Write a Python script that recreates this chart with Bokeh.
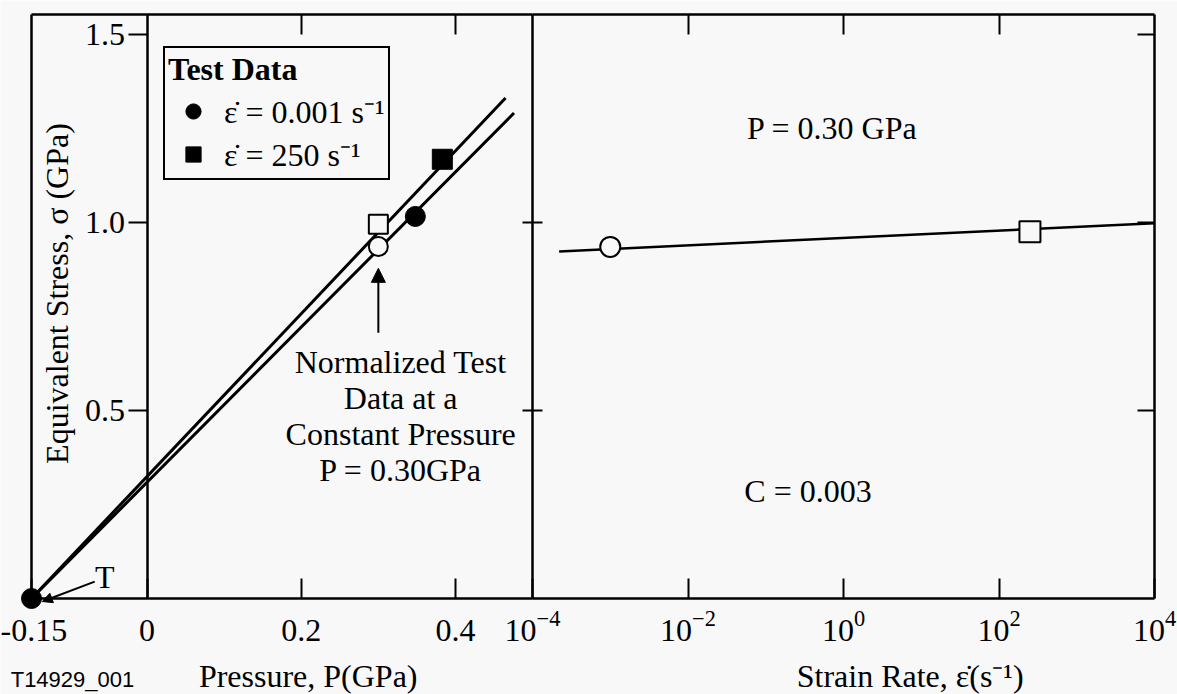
import math
from bokeh.plotting import figure
from bokeh.models import (Range1d, LinearAxis, LogAxis, LogScale, FixedTicker, Label, Arrow,
                          NormalHead, Legend, LegendItem, LogTickFormatter)
from bokeh.embed import file_html
from bokeh.resources import INLINE

# ---------------- data ----------------
# left panel: equivalent stress (GPa) vs pressure (GPa)
tensile_P = [-0.15]
tensile_S = [0.0]
fit_250_P = [-0.15, 0.465]
fit_250_S = [0.0, 1.331]
fit_001_P = [-0.15, 0.476]
fit_001_S = [0.0, 1.291]
test_001_P = [0.348]
test_001_S = [1.016]
test_250_P = [0.383]
test_250_S = [1.168]
norm_001_P = [0.30]
norm_001_S = [0.936]
norm_250_P = [0.30]
norm_250_S = [0.995]

# right panel: equivalent stress (GPa) vs strain rate (1/s) at P = 0.30 GPa
rate_fit = [2.2e-4, 1e4]
rate_fit_S = [0.923, 0.998]
rate_001 = [1e-3]
rate_001_S = [0.935]
rate_250 = [250.0]
rate_250_S = [0.975]

p_ticks = [-0.15, 0.0, 0.2, 0.4]
p_tick_labels = ["-0.15", "0", "0.2", "0.4"]
rate_ticks = [1e-4, 1e-2, 1.0, 1e2, 1e4]
stress_ticks = [0.5, 1.0, 1.5]
stress_tick_labels = ["0.5", "1.0", "1.5"]

P_MIN, P_MAX = -0.15, 0.5
R_MIN, R_MAX = 1e-4, 1e4
S_MAX = 1.553

# ---------------- layout (pixels) ----------------
W, H = 1177, 694
PX_L, PX_DIV, PX_R, PX_T, PX_B = 31, 532, 1154, 14, 598
kx = (PX_DIV - PX_L) / (P_MAX - P_MIN)
kl = (PX_R - PX_DIV) / (math.log10(R_MAX) - math.log10(R_MIN))
ky = (PX_B - PX_T) / S_MAX
x_range = Range1d(P_MIN - PX_L / kx, P_MAX + (W - PX_DIV) / kx)
rate_range = Range1d(10 ** (math.log10(R_MIN) - PX_DIV / kl), 10 ** (math.log10(R_MAX) + (W - PX_R) / kl))
y_range = Range1d(-(H - PX_B) / ky, S_MAX + PX_T / ky)
Y_TITLE = -(675 - PX_B) / ky   # vertical middle of the x-axis titles
Y_CODE = -(679 - PX_B) / ky

FONT = "Liberation Serif"
FS = "32px"
BG = "#f8f8f8"

p = figure(width=W, height=H, x_range=x_range, y_range=y_range,
           output_backend="svg", toolbar_location=None,
           x_axis_location=None, y_axis_location=None,
           min_border=0, min_border_left=0, min_border_right=0,
           min_border_top=0, min_border_bottom=0,
           background_fill_color=BG, border_fill_color=BG)
p.extra_x_ranges = {"rate": rate_range}
p.extra_x_scales = {"rate": LogScale()}
p.grid.visible = False
p.outline_line_color = None


def make_axis(cls, ticks, tin=0, tout=0, line=True, labels=None, **kw):
    ax = cls(ticker=FixedTicker(ticks=ticks), **kw)
    ax.major_tick_in = tin
    ax.major_tick_out = tout
    ax.major_tick_line_width = 2
    ax.major_tick_line_color = "black"
    ax.minor_tick_line_color = None
    ax.axis_line_width = 2.5
    ax.axis_line_color = "black" if line else None
    ax.major_label_text_font = FONT
    ax.major_label_text_font_size = FS
    ax.major_label_text_color = "black"
    if labels is not None:
        ax.major_label_overrides = dict(zip(ticks, labels))
    return ax


# bottom axes
ax = make_axis(LinearAxis, p_ticks, tin=20, labels=p_tick_labels,
               fixed_location=0, bounds=(P_MIN, P_MAX))
ax.major_label_standoff = 21
p.add_layout(ax, "below")
ax = make_axis(LogAxis, rate_ticks, tin=20, x_range_name="rate",
               fixed_location=0, bounds=(R_MIN, R_MAX))
ax.formatter = LogTickFormatter()
ax.major_label_standoff = 12
p.add_layout(ax, "below")

# top axes (tick marks only)
p.add_layout(make_axis(LinearAxis, [0.2, 0.4], tin=20, labels=["", ""],
                       fixed_location=S_MAX, bounds=(P_MIN, P_MAX)), "above")
p.add_layout(make_axis(LogAxis, [1e-2, 1.0, 1e2], tin=20, labels=["", "", ""],
                       x_range_name="rate", fixed_location=S_MAX, bounds=(R_MIN, R_MAX)), "above")

# left frame edge
p.add_layout(make_axis(LinearAxis, [], fixed_location=P_MIN, bounds=(0, S_MAX)), "left")
# stress axis at P = 0
ax = make_axis(LinearAxis, stress_ticks, tout=19, labels=stress_tick_labels,
               fixed_location=0, bounds=(0, S_MAX))
ax.major_label_standoff = 3
p.add_layout(ax, "left")
# divider between the panels
p.add_layout(make_axis(LinearAxis, [0.5, 1.0], tin=10, labels=["", ""],
                       fixed_location=P_MAX, bounds=(0, S_MAX)), "right")
p.add_layout(make_axis(LinearAxis, [0.5, 1.0], tin=10, labels=["", ""], line=False,
                       x_range_name="rate", fixed_location=R_MIN, bounds=(0, S_MAX)), "left")
# right frame edge
p.add_layout(make_axis(LinearAxis, stress_ticks, tin=17, labels=["", "", ""],
                       x_range_name="rate", fixed_location=R_MAX, bounds=(0, S_MAX)), "right")

# ---------------- left panel marks ----------------
p.line(fit_250_P, fit_250_S, line_width=3, line_color="black")
p.line(fit_001_P, fit_001_S, line_width=3, line_color="black")
p.scatter(tensile_P, tensile_S, marker="circle", size=20, color="black")
r001 = p.scatter(test_001_P, test_001_S, marker="circle", size=20, color="black")
r250 = p.scatter(test_250_P, test_250_S, marker="square", size=20, color="black")
p.scatter(norm_001_P, norm_001_S, marker="circle", size=19,
          fill_color=BG, line_color="black", line_width=2)
p.scatter(norm_250_P, norm_250_S, marker="square", size=19,
          fill_color=BG, line_color="black", line_width=2)

legend = Legend(items=[LegendItem(label="ε\u0307 = 0.001 s⁻¹", renderers=[r001]),
                       LegendItem(label="ε\u0307 = 250 s⁻¹", renderers=[r250])],
                title="Test Data", location=(163, H - 180),
                border_line_color="black", border_line_width=2, border_line_alpha=1.0,
                background_fill_color=BG, background_fill_alpha=1.0,
                padding=3, margin=0, spacing=0, glyph_width=50, glyph_height=38,
                label_standoff=6, label_text_font=FONT, label_text_font_size=FS,
                label_text_color="black",
                title_text_font=FONT, title_text_font_size=FS, title_text_font_style="bold",
                title_text_color="black", title_standoff=1)
p.add_layout(legend)

p.add_layout(Arrow(end=NormalHead(size=14, fill_color="black", line_color="black"),
                   x_start=0.30, y_start=0.707, x_end=0.30, y_end=0.878,
                   line_width=2, line_color="black"))
p.add_layout(Arrow(end=NormalHead(size=10, fill_color="black", line_color="black"),
                   x_start=-0.068, y_start=0.045, x_end=-0.136, y_end=-0.008,
                   line_width=2, line_color="black"))
p.add_layout(Label(x=-0.055, y=0.058, text="T", text_align="center", text_baseline="middle",
                   text_font=FONT, text_font_size=FS, text_color="black"))
p.add_layout(Label(x=0.329, y=0.485,
                   text="Normalized Test\nData at a\nConstant Pressure\nP = 0.30GPa",
                   text_align="center", text_baseline="middle", text_line_height=1.0,
                   text_font=FONT, text_font_size=FS, text_color="black"))
p.add_layout(Label(x=-0.117, y=0.811, angle=90, angle_units="deg",
                   text="Equivalent Stress, σ (GPa)",
                   text_align="center", text_baseline="middle",
                   text_font=FONT, text_font_size=FS, text_color="black"))
p.add_layout(Label(x=0.209, y=Y_TITLE, text="Pressure, P(GPa)",
                   text_align="center", text_baseline="middle",
                   text_font=FONT, text_font_size=FS, text_color="black"))
p.add_layout(Label(x=-0.177, y=Y_CODE, text="T14929_001",
                   text_align="left", text_baseline="middle",
                   text_font="Liberation Sans", text_font_size="22px", text_color="black"))

# ---------------- right panel marks ----------------
p.line(rate_fit, rate_fit_S, line_width=2.5, line_color="black", x_range_name="rate")
p.scatter(rate_001, rate_001_S, marker="circle", size=20, x_range_name="rate",
          fill_color=BG, line_color="black", line_width=2)
p.scatter(rate_250, rate_250_S, marker="square", size=21, x_range_name="rate",
          fill_color=BG, line_color="black", line_width=2)

p.add_layout(Label(x=0.72, y=1.25, x_range_name="rate", text="P = 0.30 GPa",
                   text_align="center", text_baseline="middle",
                   text_font=FONT, text_font_size=FS, text_color="black"))
p.add_layout(Label(x=0.35, y=0.287, x_range_name="rate", text="C = 0.003",
                   text_align="center", text_baseline="middle",
                   text_font=FONT, text_font_size=FS, text_color="black"))
p.add_layout(Label(x=7.2, y=Y_TITLE, x_range_name="rate", text="Strain Rate, ε\u0307(s⁻¹)",
                   text_align="center", text_baseline="middle",
                   text_font=FONT, text_font_size=FS, text_color="black"))

open("out.html", "w").write(file_html(p, INLINE))
